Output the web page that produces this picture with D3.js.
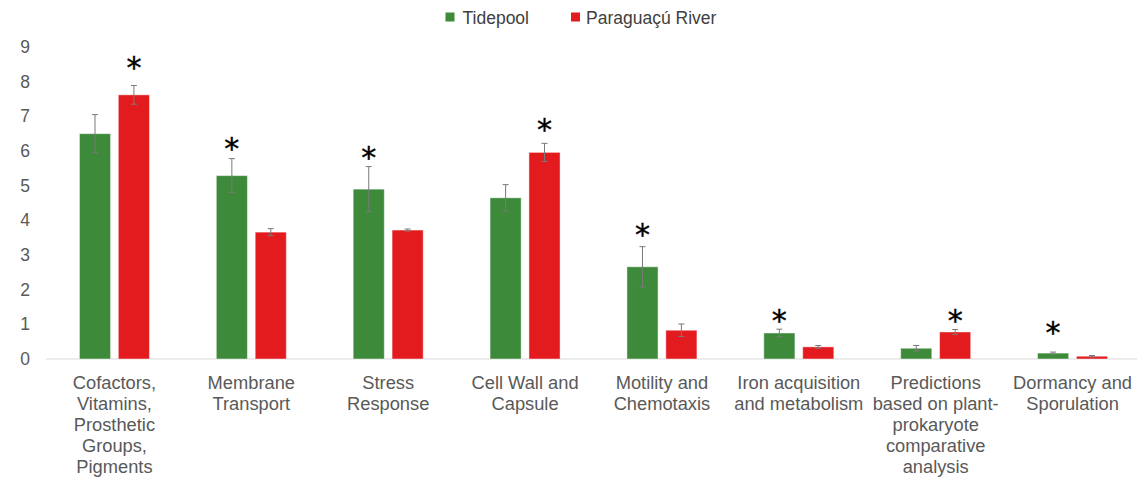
<!DOCTYPE html>
<html>
<head>
<meta charset="utf-8">
<script src="https://cdn.jsdelivr.net/npm/d3@7"></script>
<style>
html,body{margin:0;padding:0;background:#fff;}
svg{display:block;font-family:"Liberation Sans",Arial,sans-serif;}
</style>
</head>
<body>
<svg id="chart" width="1137" height="481"></svg>
<script>
const categories = [
  ["Cofactors,","Vitamins,","Prosthetic","Groups,","Pigments"],
  ["Membrane","Transport"],
  ["Stress","Response"],
  ["Cell Wall and","Capsule"],
  ["Motility and","Chemotaxis"],
  ["Iron acquisition","and metabolism"],
  ["Predictions","based on plant-","prokaryote","comparative","analysis"],
  ["Dormancy and","Sporulation"]
];
const seriesNames = ["Tidepool", "Paraguaçú River"];
const tidepool = [6.50, 5.29, 4.90, 4.65, 2.66, 0.75, 0.31, 0.17];
const tidepoolErr = [0.55, 0.49, 0.65, 0.38, 0.58, 0.11, 0.08, 0.03];
const paraguacu = [7.62, 3.66, 3.72, 5.96, 0.83, 0.35, 0.78, 0.08];
const paraguacuErr = [0.27, 0.10, 0.03, 0.26, 0.18, 0.04, 0.07, 0.02];
// which series carries the significance asterisk, and at what value level
const starSeries = [1, 0, 0, 1, 0, 0, 1, 0];
const starLevel = [8.62, 6.30, 6.03, 6.85, 3.82, 1.34, 1.34, 0.98];
const yTicks = [0,1,2,3,4,5,6,7,8,9];
const colors = ["#3E8A3B", "#E31B1F"];

const svg = d3.select("#chart");
const y = d3.scaleLinear().domain([0, 9]).range([359, 47]);
const x0 = d3.scaleBand().domain(d3.range(categories.length)).range([46, 1141]);
const groupW = 70;

// axis line
svg.append("line").attr("x1", 46).attr("x2", 1137).attr("y1", y(0)).attr("y2", y(0))
  .attr("stroke", "#d9d9d9").attr("stroke-width", 1);

// y tick labels
const yAxis = d3.axisLeft(y).tickValues(yTicks).tickSize(0).tickPadding(0).tickFormat(d3.format("d"));
const gy = svg.append("g").attr("transform", "translate(30,0)").call(yAxis);
gy.select(".domain").remove();
gy.selectAll("text").attr("font-size", "17.5px").attr("fill", "#595959")
  .attr("font-family", "Liberation Sans, Arial, sans-serif");

const series = [
  {name: seriesNames[0], vals: tidepool, errs: tidepoolErr, color: colors[0]},
  {name: seriesNames[1], vals: paraguacu, errs: paraguacuErr, color: colors[1]}
];

categories.forEach((cat, i) => {
  const cx = x0(i) + x0.bandwidth() / 2;
  const x1 = d3.scaleBand().domain([0, 1]).range([cx - groupW/2, cx + groupW/2]).paddingInner(0.2);
  series.forEach((s, j) => {
    const v = s.vals[i], e = s.errs[i];
    const bx = x1(j), bw = x1.bandwidth();
    svg.append("rect").attr("x", bx).attr("y", y(v)).attr("width", bw).attr("height", y(0) - y(v))
      .attr("fill", s.color).attr("stroke", "#ffffff").attr("stroke-opacity", 0.45).attr("stroke-width", 1);
    const mx = bx + bw / 2;
    const g = svg.append("g").attr("stroke", "#7a7a7a").attr("stroke-width", 1);
    g.append("line").attr("x1", mx).attr("x2", mx).attr("y1", y(v + e)).attr("y2", y(v - e));
    g.append("line").attr("x1", mx - 3).attr("x2", mx + 3).attr("y1", y(v + e)).attr("y2", y(v + e));
    g.append("line").attr("x1", mx - 3).attr("x2", mx + 3).attr("y1", y(v - e)).attr("y2", y(v - e));
    if (starSeries[i] === j) {
      svg.append("text").attr("x", mx).attr("y", y(starLevel[i]) + 18)
        .attr("text-anchor", "middle").attr("font-size", "30px").attr("fill", "#000")
        .attr("font-family", "DejaVu Sans, sans-serif")
        .attr("stroke", "#000").attr("stroke-width", 0.4).text("*");
    }
  });
  // category label
  const t = svg.append("text").attr("text-anchor", "middle").attr("font-size", "18.3px").attr("fill", "#595959");
  cat.forEach((line, k) => {
    t.append("tspan").attr("x", cx).attr("y", 388.5 + k * 21.2).text(line);
  });
});

// legend
const legend = [{name: seriesNames[0], color: colors[0], x: 445.5, tx: 462.5},
                {name: seriesNames[1], color: colors[1], x: 571, tx: 586}];
legend.forEach(l => {
  svg.append("rect").attr("x", l.x).attr("y", 12.5).attr("width", 9).attr("height", 9).attr("fill", l.color);
  svg.append("text").attr("x", l.tx).attr("y", 23.5).attr("font-size", "17.5px").attr("fill", "#404040").text(l.name);
});
</script>
</body>
</html>
